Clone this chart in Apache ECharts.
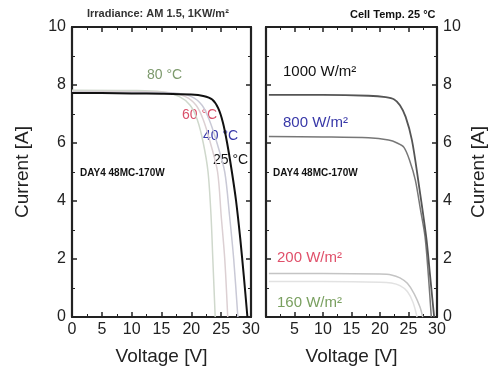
<!DOCTYPE html>
<html>
<head>
<meta charset="utf-8">
<script src="https://cdn.jsdelivr.net/npm/echarts@6/dist/echarts.min.js"></script>
<style>
  html, body { margin: 0; padding: 0; background: #fff; }
  #chart { width: 489px; height: 371px; }
</style>
</head>
<body>
<div id="chart"></div>
<script>
// left panel: I-V at different cell temperatures (irradiance 1 kW/m2)
var v25 = [0, 5, 10, 15, 20, 22, 23.5, 24.5, 25.3, 26, 26.8, 27.5, 28.2, 28.8, 29.4];
var i25 = [7.72, 7.72, 7.71, 7.7, 7.67, 7.62, 7.5, 7.2, 6.7, 6.0, 5.0, 4.0, 2.7, 1.4, 0];
var v40 = [0, 10, 17, 20, 21.8, 23, 24.3, 25.6, 26.4, 27.1, 27.8];
var i40 = [7.75, 7.74, 7.72, 7.6, 7.3, 6.8, 6.0, 5.0, 3.5, 2.0, 0];
var v60 = [0, 10, 16, 19, 20.8, 22, 23.2, 24.4, 25, 25.6, 26.1];
var i60 = [7.78, 7.77, 7.74, 7.6, 7.3, 6.8, 6.0, 5.0, 3.5, 2.0, 0];
var v80 = [0, 10, 15, 18, 19.8, 21, 22, 22.8, 23.3, 23.6, 24];
var i80 = [7.82, 7.81, 7.77, 7.6, 7.3, 6.8, 6.0, 5.0, 3.5, 2.0, 0];

// right panel: I-V at different irradiance (cell temp 25 C)
var v1000 = [0.5, 10, 18, 21, 22.5, 23.5, 24.5, 25.6, 26.7, 28.1, 28.8, 29.5];
var i1000 = [7.66, 7.66, 7.63, 7.58, 7.5, 7.3, 6.9, 6.1, 4.72, 2.77, 1.4, 0];
var v800 = [0.5, 10, 18, 21.5, 23, 24.2, 25.2, 26.2, 27.1, 27.9, 28.5, 29];
var i800 = [6.22, 6.21, 6.18, 6.1, 6.0, 5.85, 5.4, 4.72, 3.7, 2.77, 1.4, 0];
var v200 = [0.5, 10, 20, 22, 23.5, 24.8, 26, 27, 27.5];
var i200 = [1.5, 1.5, 1.48, 1.45, 1.35, 1.16, 0.8, 0.35, 0];
var v160 = [0.5, 10, 20, 22, 23.5, 24.8, 25.8, 26.5];
var i160 = [1.22, 1.22, 1.2, 1.17, 1.08, 0.88, 0.5, 0];

function pairs(vs, is) {
  return vs.map(function (v, k) { return [v, is[k]]; });
}

var font = 'Liberation Sans, Arial, sans-serif';
var axisCol = '#222';

function xAx(gi, showLabels, top, hideZero) {
  return {
    type: 'value', gridIndex: gi, min: 0, max: 30, interval: 5,
    position: top ? 'top' : 'bottom',
    name: (showLabels ? 'Voltage [V]' : ''), nameLocation: 'middle', nameGap: 30,
    nameTextStyle: { fontFamily: font, fontSize: 19, color: axisCol },
    axisLine: { onZero: false, lineStyle: { color: axisCol, width: 2.2 } },
    axisTick: { inside: true, length: 5, lineStyle: { color: axisCol, width: 1.5 } },
    minorTick: { show: true, splitNumber: 2, length: 3, lineStyle: { color: axisCol } },
    axisLabel: {
      show: showLabels, margin: 5, fontFamily: font, fontSize: 16, color: axisCol,
      formatter: function (v) { return (hideZero && v === 0) ? '' : v; }
    },
    splitLine: { show: false }
  };
}

function yAx(gi, showLabels, right) {
  return {
    type: 'value', gridIndex: gi, min: 0, max: 10, interval: 2,
    position: right ? 'right' : 'left',
    name: (showLabels ? 'Current [A]' : ''), nameLocation: 'middle',
    nameGap: right ? 32 : 40,
    nameRotate: 90,
    nameTextStyle: { fontFamily: font, fontSize: 19, color: axisCol },
    axisLine: { onZero: false, lineStyle: { color: axisCol, width: 2.2 } },
    axisTick: { inside: true, length: 5, lineStyle: { color: axisCol, width: 1.5 } },
    minorTick: { show: true, splitNumber: 2, length: 3, lineStyle: { color: axisCol } },
    axisLabel: { show: showLabels, margin: 6, fontFamily: font, fontSize: 16, color: axisCol },
    splitLine: { show: false }
  };
}

function line(xi, yi, data, color, width) {
  return {
    type: 'line', xAxisIndex: xi, yAxisIndex: yi, data: data,
    showSymbol: false, smooth: 0.3, silent: true,
    lineStyle: { color: color, width: width }
  };
}

function txt(x, y, s, color, size, weight) {
  return {
    type: 'text', x: x, y: y,
    style: {
      text: s, fill: color, font: (weight || 'normal') + ' ' + size + 'px ' + font,
      verticalAlign: 'middle'
    }
  };
}

var chart = echarts.init(document.getElementById('chart'));
chart.setOption({
  animation: false,
  backgroundColor: '#fff',
  grid: [
    { left: 72, right: 238, top: 27, bottom: 54 },
    { left: 266, right: 38, top: 27, bottom: 54 }
  ],
  xAxis: [xAx(0, true, false, false), xAx(0, false, true), xAx(1, true, false, true), xAx(1, false, true)],
  yAxis: [yAx(0, true, false), yAx(0, false, true), yAx(1, true, true), yAx(1, false, false)],
  series: [
    line(0, 0, pairs(v80, i80), '#cfd8cc', 1.5),
    line(0, 0, pairs(v60, i60), '#dcd0d3', 1.5),
    line(0, 0, pairs(v40, i40), '#c9c9d6', 1.5),
    line(0, 0, pairs(v25, i25), '#111', 2),
    line(2, 2, pairs(v160, i160), '#e2e2e2', 1.5),
    line(2, 2, pairs(v200, i200), '#c4c4c4', 1.5),
    line(2, 2, pairs(v800, i800), '#777', 1.5),
    line(2, 2, pairs(v1000, i1000), '#555', 1.8)
  ],
  graphic: [
    txt(87, 14, 'Irradiance: AM 1.5, 1KW/m²', '#333', 11, 'bold'),
    txt(350, 15, 'Cell Temp. 25 °C', '#111', 11, 'bold'),
    txt(147, 75, '80 °C', '#7d9a6d', 14),
    txt(182, 115, '60 °C', '#d9506a', 14),
    txt(203, 136, '40 °C', '#3838a8', 14),
    txt(213, 160, '25 °C', '#111', 14),
    txt(80, 173, 'DAY4 48MC-170W', '#111', 10, 'bold'),
    txt(273, 173, 'DAY4 48MC-170W', '#111', 10, 'bold'),
    txt(283, 72, '1000 W/m²', '#111', 15),
    txt(283, 123, '800 W/m²', '#3838a8', 15),
    txt(277, 258, '200 W/m²', '#e0506a', 15),
    txt(277, 303, '160 W/m²', '#7aa060', 15)
  ]
});
</script>
</body>
</html>
